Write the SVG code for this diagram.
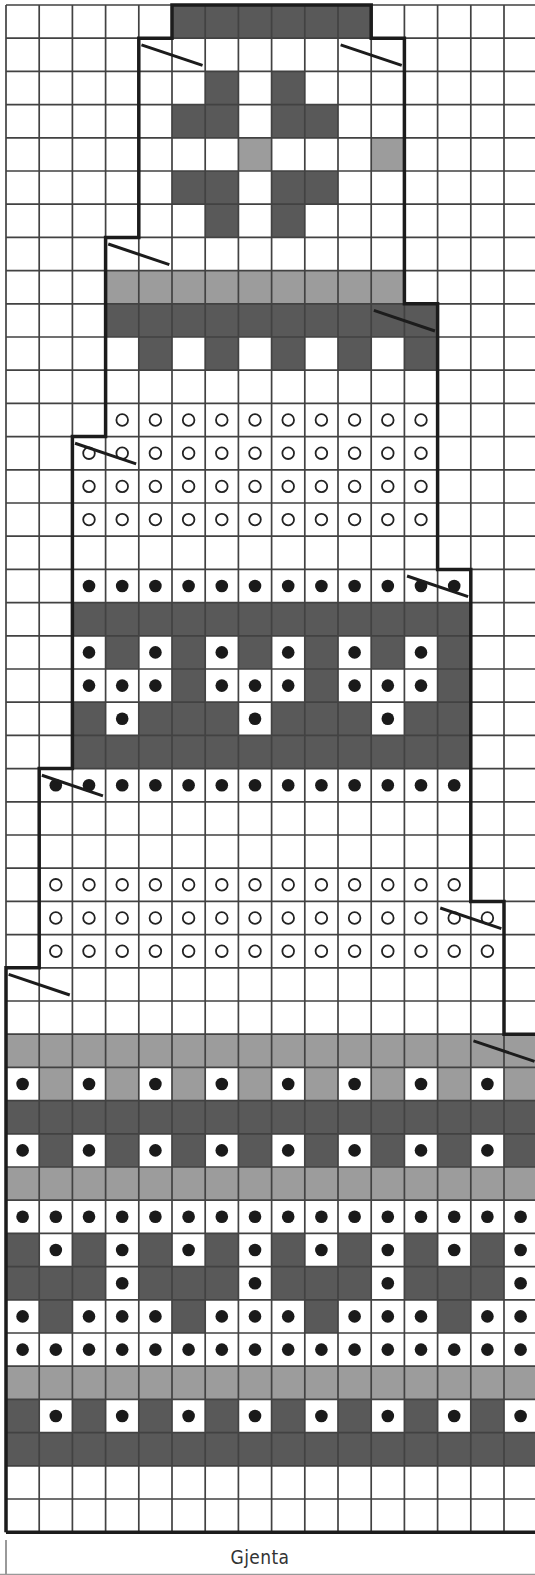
<svg xmlns="http://www.w3.org/2000/svg" xmlns:xlink="http://www.w3.org/1999/xlink" width="535" height="1575" viewBox="0 0 535 1575">
<style>
.dk{fill:#595959}
.gr{fill:#9c9c9c}
.grid{fill:none;stroke:#424242;stroke-width:1.7}
.out{fill:none;stroke:#1c1c1c;stroke-width:3.5;stroke-linejoin:miter}
.sl{stroke:#1c1c1c;stroke-width:3;stroke-linecap:butt}
.dot{fill:#1a1a1a}
.ring{fill:none;stroke:#222;stroke-width:1.8}
.lab{font-family:"DejaVu Sans Condensed","Liberation Sans",sans-serif;font-size:19px;letter-spacing:0.4px;fill:#333}
</style>
<defs>
<circle id="d" class="dot" cx="0.5" cy="0.5" r="0.19"/>
<circle id="o" class="ring" cx="0.5" cy="0.5" r="0.175" vector-effect="non-scaling-stroke"/>
<line id="s" class="sl" x1="0.08" y1="0.2" x2="1.92" y2="0.82" vector-effect="non-scaling-stroke"/>
</defs>
<rect x="0" y="0" width="535" height="1575" fill="#fff"/>
<g id="chart" transform="translate(6 5) scale(33.2)">
<g id="fills">
<rect class="dk" x="5" y="0" width="6" height="1"/>
<rect class="dk" x="6" y="2" width="1" height="1"/><rect class="dk" x="8" y="2" width="1" height="1"/>
<rect class="dk" x="5" y="3" width="2" height="1"/><rect class="dk" x="8" y="3" width="2" height="1"/>
<rect class="gr" x="7" y="4" width="1" height="1"/><rect class="gr" x="11" y="4" width="1" height="1"/>
<rect class="dk" x="5" y="5" width="2" height="1"/><rect class="dk" x="8" y="5" width="2" height="1"/>
<rect class="dk" x="6" y="6" width="1" height="1"/><rect class="dk" x="8" y="6" width="1" height="1"/>
<rect class="gr" x="3" y="8" width="9" height="1"/>
<rect class="dk" x="3" y="9" width="10" height="1"/>
<rect class="dk" x="4" y="10" width="1" height="1"/><rect class="dk" x="6" y="10" width="1" height="1"/><rect class="dk" x="8" y="10" width="1" height="1"/><rect class="dk" x="10" y="10" width="1" height="1"/><rect class="dk" x="12" y="10" width="1" height="1"/>
<rect class="dk" x="2" y="18" width="12" height="1"/>
<rect class="dk" x="3" y="19" width="1" height="1"/><rect class="dk" x="5" y="19" width="1" height="1"/><rect class="dk" x="7" y="19" width="1" height="1"/><rect class="dk" x="9" y="19" width="1" height="1"/><rect class="dk" x="11" y="19" width="1" height="1"/><rect class="dk" x="13" y="19" width="1" height="1"/>
<rect class="dk" x="5" y="20" width="1" height="1"/><rect class="dk" x="9" y="20" width="1" height="1"/><rect class="dk" x="13" y="20" width="1" height="1"/>
<rect class="dk" x="2" y="21" width="1" height="1"/><rect class="dk" x="4" y="21" width="3" height="1"/><rect class="dk" x="8" y="21" width="3" height="1"/><rect class="dk" x="12" y="21" width="2" height="1"/>
<rect class="dk" x="2" y="22" width="12" height="1"/>
<rect class="gr" x="0" y="31" width="17" height="1"/>
<rect class="gr" x="1" y="32" width="1" height="1"/><rect class="gr" x="3" y="32" width="1" height="1"/><rect class="gr" x="5" y="32" width="1" height="1"/><rect class="gr" x="7" y="32" width="1" height="1"/><rect class="gr" x="9" y="32" width="1" height="1"/><rect class="gr" x="11" y="32" width="1" height="1"/><rect class="gr" x="13" y="32" width="1" height="1"/><rect class="gr" x="15" y="32" width="2" height="1"/>
<rect class="dk" x="0" y="33" width="17" height="1"/>
<rect class="dk" x="1" y="34" width="1" height="1"/><rect class="dk" x="3" y="34" width="1" height="1"/><rect class="dk" x="5" y="34" width="1" height="1"/><rect class="dk" x="7" y="34" width="1" height="1"/><rect class="dk" x="9" y="34" width="1" height="1"/><rect class="dk" x="11" y="34" width="1" height="1"/><rect class="dk" x="13" y="34" width="1" height="1"/><rect class="dk" x="15" y="34" width="2" height="1"/>
<rect class="gr" x="0" y="35" width="17" height="1"/>
<rect class="dk" x="0" y="37" width="1" height="1"/><rect class="dk" x="2" y="37" width="1" height="1"/><rect class="dk" x="4" y="37" width="1" height="1"/><rect class="dk" x="6" y="37" width="1" height="1"/><rect class="dk" x="8" y="37" width="1" height="1"/><rect class="dk" x="10" y="37" width="1" height="1"/><rect class="dk" x="12" y="37" width="1" height="1"/><rect class="dk" x="14" y="37" width="1" height="1"/>
<rect class="dk" x="0" y="38" width="3" height="1"/><rect class="dk" x="4" y="38" width="3" height="1"/><rect class="dk" x="8" y="38" width="3" height="1"/><rect class="dk" x="12" y="38" width="3" height="1"/>
<rect class="dk" x="1" y="39" width="1" height="1"/><rect class="dk" x="5" y="39" width="1" height="1"/><rect class="dk" x="9" y="39" width="1" height="1"/><rect class="dk" x="13" y="39" width="1" height="1"/>
<rect class="gr" x="0" y="41" width="17" height="1"/>
<rect class="dk" x="0" y="42" width="1" height="1"/><rect class="dk" x="2" y="42" width="1" height="1"/><rect class="dk" x="4" y="42" width="1" height="1"/><rect class="dk" x="6" y="42" width="1" height="1"/><rect class="dk" x="8" y="42" width="1" height="1"/><rect class="dk" x="10" y="42" width="1" height="1"/><rect class="dk" x="12" y="42" width="1" height="1"/><rect class="dk" x="14" y="42" width="1" height="1"/>
<rect class="dk" x="0" y="43" width="17" height="1"/>
</g>
<path id="grid" class="grid" vector-effect="non-scaling-stroke" d="M0 0V46M1 0V46M2 0V46M3 0V46M4 0V46M5 0V46M6 0V46M7 0V46M8 0V46M9 0V46M10 0V46M11 0V46M12 0V46M13 0V46M14 0V46M15 0V46M16 0V46M0 0H17M0 1H17M0 2H17M0 3H17M0 4H17M0 5H17M0 6H17M0 7H17M0 8H17M0 9H17M0 10H17M0 11H17M0 12H17M0 13H17M0 14H17M0 15H17M0 16H17M0 17H17M0 18H17M0 19H17M0 20H17M0 21H17M0 22H17M0 23H17M0 24H17M0 25H17M0 26H17M0 27H17M0 28H17M0 29H17M0 30H17M0 31H17M0 32H17M0 33H17M0 34H17M0 35H17M0 36H17M0 37H17M0 38H17M0 39H17M0 40H17M0 41H17M0 42H17M0 43H17M0 44H17M0 45H17"/>
<g id="rings">
<use href="#o" x="3" y="12"/><use href="#o" x="4" y="12"/><use href="#o" x="5" y="12"/><use href="#o" x="6" y="12"/><use href="#o" x="7" y="12"/><use href="#o" x="8" y="12"/><use href="#o" x="9" y="12"/><use href="#o" x="10" y="12"/><use href="#o" x="11" y="12"/><use href="#o" x="12" y="12"/>
<use href="#o" x="2" y="13"/><use href="#o" x="3" y="13"/><use href="#o" x="4" y="13"/><use href="#o" x="5" y="13"/><use href="#o" x="6" y="13"/><use href="#o" x="7" y="13"/><use href="#o" x="8" y="13"/><use href="#o" x="9" y="13"/><use href="#o" x="10" y="13"/><use href="#o" x="11" y="13"/><use href="#o" x="12" y="13"/>
<use href="#o" x="2" y="14"/><use href="#o" x="3" y="14"/><use href="#o" x="4" y="14"/><use href="#o" x="5" y="14"/><use href="#o" x="6" y="14"/><use href="#o" x="7" y="14"/><use href="#o" x="8" y="14"/><use href="#o" x="9" y="14"/><use href="#o" x="10" y="14"/><use href="#o" x="11" y="14"/><use href="#o" x="12" y="14"/>
<use href="#o" x="2" y="15"/><use href="#o" x="3" y="15"/><use href="#o" x="4" y="15"/><use href="#o" x="5" y="15"/><use href="#o" x="6" y="15"/><use href="#o" x="7" y="15"/><use href="#o" x="8" y="15"/><use href="#o" x="9" y="15"/><use href="#o" x="10" y="15"/><use href="#o" x="11" y="15"/><use href="#o" x="12" y="15"/>
<use href="#o" x="1" y="26"/><use href="#o" x="2" y="26"/><use href="#o" x="3" y="26"/><use href="#o" x="4" y="26"/><use href="#o" x="5" y="26"/><use href="#o" x="6" y="26"/><use href="#o" x="7" y="26"/><use href="#o" x="8" y="26"/><use href="#o" x="9" y="26"/><use href="#o" x="10" y="26"/><use href="#o" x="11" y="26"/><use href="#o" x="12" y="26"/><use href="#o" x="13" y="26"/>
<use href="#o" x="1" y="27"/><use href="#o" x="2" y="27"/><use href="#o" x="3" y="27"/><use href="#o" x="4" y="27"/><use href="#o" x="5" y="27"/><use href="#o" x="6" y="27"/><use href="#o" x="7" y="27"/><use href="#o" x="8" y="27"/><use href="#o" x="9" y="27"/><use href="#o" x="10" y="27"/><use href="#o" x="11" y="27"/><use href="#o" x="12" y="27"/><use href="#o" x="13" y="27"/><use href="#o" x="14" y="27"/>
<use href="#o" x="1" y="28"/><use href="#o" x="2" y="28"/><use href="#o" x="3" y="28"/><use href="#o" x="4" y="28"/><use href="#o" x="5" y="28"/><use href="#o" x="6" y="28"/><use href="#o" x="7" y="28"/><use href="#o" x="8" y="28"/><use href="#o" x="9" y="28"/><use href="#o" x="10" y="28"/><use href="#o" x="11" y="28"/><use href="#o" x="12" y="28"/><use href="#o" x="13" y="28"/><use href="#o" x="14" y="28"/>
</g>
<g id="dots">
<use href="#d" x="2" y="17"/><use href="#d" x="3" y="17"/><use href="#d" x="4" y="17"/><use href="#d" x="5" y="17"/><use href="#d" x="6" y="17"/><use href="#d" x="7" y="17"/><use href="#d" x="8" y="17"/><use href="#d" x="9" y="17"/><use href="#d" x="10" y="17"/><use href="#d" x="11" y="17"/><use href="#d" x="12" y="17"/><use href="#d" x="13" y="17"/>
<use href="#d" x="2" y="19"/><use href="#d" x="4" y="19"/><use href="#d" x="6" y="19"/><use href="#d" x="8" y="19"/><use href="#d" x="10" y="19"/><use href="#d" x="12" y="19"/>
<use href="#d" x="2" y="20"/><use href="#d" x="3" y="20"/><use href="#d" x="4" y="20"/><use href="#d" x="6" y="20"/><use href="#d" x="7" y="20"/><use href="#d" x="8" y="20"/><use href="#d" x="10" y="20"/><use href="#d" x="11" y="20"/><use href="#d" x="12" y="20"/>
<use href="#d" x="3" y="21"/><use href="#d" x="7" y="21"/><use href="#d" x="11" y="21"/>
<use href="#d" x="1" y="23"/><use href="#d" x="2" y="23"/><use href="#d" x="3" y="23"/><use href="#d" x="4" y="23"/><use href="#d" x="5" y="23"/><use href="#d" x="6" y="23"/><use href="#d" x="7" y="23"/><use href="#d" x="8" y="23"/><use href="#d" x="9" y="23"/><use href="#d" x="10" y="23"/><use href="#d" x="11" y="23"/><use href="#d" x="12" y="23"/><use href="#d" x="13" y="23"/>
<use href="#d" x="0" y="32"/><use href="#d" x="2" y="32"/><use href="#d" x="4" y="32"/><use href="#d" x="6" y="32"/><use href="#d" x="8" y="32"/><use href="#d" x="10" y="32"/><use href="#d" x="12" y="32"/><use href="#d" x="14" y="32"/>
<use href="#d" x="0" y="34"/><use href="#d" x="2" y="34"/><use href="#d" x="4" y="34"/><use href="#d" x="6" y="34"/><use href="#d" x="8" y="34"/><use href="#d" x="10" y="34"/><use href="#d" x="12" y="34"/><use href="#d" x="14" y="34"/>
<use href="#d" x="0" y="36"/><use href="#d" x="1" y="36"/><use href="#d" x="2" y="36"/><use href="#d" x="3" y="36"/><use href="#d" x="4" y="36"/><use href="#d" x="5" y="36"/><use href="#d" x="6" y="36"/><use href="#d" x="7" y="36"/><use href="#d" x="8" y="36"/><use href="#d" x="9" y="36"/><use href="#d" x="10" y="36"/><use href="#d" x="11" y="36"/><use href="#d" x="12" y="36"/><use href="#d" x="13" y="36"/><use href="#d" x="14" y="36"/><use href="#d" x="15" y="36"/>
<use href="#d" x="1" y="37"/><use href="#d" x="3" y="37"/><use href="#d" x="5" y="37"/><use href="#d" x="7" y="37"/><use href="#d" x="9" y="37"/><use href="#d" x="11" y="37"/><use href="#d" x="13" y="37"/><use href="#d" x="15" y="37"/>
<use href="#d" x="3" y="38"/><use href="#d" x="7" y="38"/><use href="#d" x="11" y="38"/><use href="#d" x="15" y="38"/>
<use href="#d" x="0" y="39"/><use href="#d" x="2" y="39"/><use href="#d" x="3" y="39"/><use href="#d" x="4" y="39"/><use href="#d" x="6" y="39"/><use href="#d" x="7" y="39"/><use href="#d" x="8" y="39"/><use href="#d" x="10" y="39"/><use href="#d" x="11" y="39"/><use href="#d" x="12" y="39"/><use href="#d" x="14" y="39"/><use href="#d" x="15" y="39"/>
<use href="#d" x="0" y="40"/><use href="#d" x="1" y="40"/><use href="#d" x="2" y="40"/><use href="#d" x="3" y="40"/><use href="#d" x="4" y="40"/><use href="#d" x="5" y="40"/><use href="#d" x="6" y="40"/><use href="#d" x="7" y="40"/><use href="#d" x="8" y="40"/><use href="#d" x="9" y="40"/><use href="#d" x="10" y="40"/><use href="#d" x="11" y="40"/><use href="#d" x="12" y="40"/><use href="#d" x="13" y="40"/><use href="#d" x="14" y="40"/><use href="#d" x="15" y="40"/>
<use href="#d" x="1" y="42"/><use href="#d" x="3" y="42"/><use href="#d" x="5" y="42"/><use href="#d" x="7" y="42"/><use href="#d" x="9" y="42"/><use href="#d" x="11" y="42"/><use href="#d" x="13" y="42"/><use href="#d" x="15" y="42"/>
</g>
<path id="outline" class="out" vector-effect="non-scaling-stroke" d="M0 46V29H1V23H2V13H3V7H4V1H5V0H11V1H12V9H13V17H14V27H15V31H17M0 46H17"/>
<g id="decreases">
<use href="#s" x="4" y="1"/><use href="#s" x="10" y="1"/><use href="#s" x="3" y="7"/><use href="#s" x="11" y="9"/><use href="#s" x="2" y="13"/><use href="#s" x="12" y="17"/><use href="#s" x="1" y="23"/><use href="#s" x="13" y="27"/><use href="#s" x="0" y="29"/><use href="#s" x="14" y="31"/>
</g>
</g>
<g id="label">
<line x1="6" y1="1540" x2="6" y2="1575" stroke="#777" stroke-width="1.5"/>
<line x1="0" y1="1574.3" x2="535" y2="1574.3" stroke="#999" stroke-width="1.3"/>
<text class="lab" x="260" y="1563.5" text-anchor="middle">Gjenta</text>
</g>
</svg>
